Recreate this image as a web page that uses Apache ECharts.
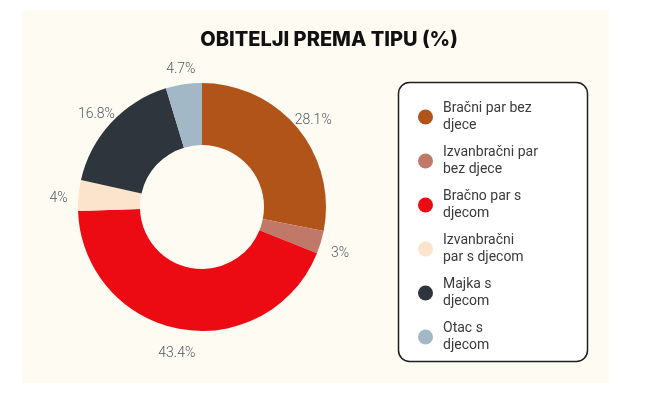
<!DOCTYPE html>
<html><head><meta charset="utf-8">
<script src="https://cdn.jsdelivr.net/npm/echarts@6/dist/echarts.min.js"></script>
<style>html,body{margin:0;padding:0;background:#fff}#c{width:653px;height:400px}</style>
</head><body><div id="c"></div>
<script>
const categories = ['Bračni par bez djece','Izvanbračni par bez djece','Bračno par s djecom','Izvanbračni par s djecom','Majka s djecom','Otac s djecom'];
const legendLabels = ['Bračni par bez\ndjece','Izvanbračni par\nbez djece','Bračno par s\ndjecom','Izvanbračni\npar s djecom','Majka s\ndjecom','Otac s\ndjecom'];
const values = [28.1, 3, 43.4, 4, 16.8, 4.7];
const colors = ['#B1541A','#C07868','#EC0A13','#FCE4CC','#2E353C','#A2B8C7'];
const titleText = 'OBITELJI PREMA TIPU (%)';

const chart = echarts.init(document.getElementById('c'), null, {renderer:'canvas'});
const mainData = categories.map((n,i)=>({name:n, value:values[i], itemStyle:{color:colors[i]}}));
const labelData = categories.map((n,i)=>({name:n, value:values[i]}));
chart.setOption({
  animation:false,
  backgroundColor:'#ffffff',
  graphic:[
    {type:'rect', z:-10, shape:{x:22,y:10,width:587,height:373}, style:{fill:'#FEFBF3'}},
    {type:'rect', z:-5, shape:{x:398.5,y:82.5,width:189,height:279,r:11}, style:{fill:'#ffffff',stroke:'#1f1f1f',lineWidth:1.5}}
  ],
  title:{text:titleText, left:324, top:25, textAlign:'center',
    textStyle:{fontFamily:'Inter', fontWeight:800, fontSize:20, color:'#111'}},
  legend:{
    orient:'vertical', left:413, top:95, itemWidth:15, itemHeight:15, itemGap:10,
    icon:'circle', selectedMode:false,
    data:categories,
    formatter:function(n){return legendLabels[categories.indexOf(n)];},
    textStyle:{fontFamily:'Roboto', fontSize:14, color:'#3a3a3a', lineHeight:17, padding:[0,0,0,5]}
  },
  series:[
    {type:'pie', name:'main', center:[202,207], radius:[62,124], startAngle:90, clockwise:true,
     label:{show:false}, labelLine:{show:false}, emphasis:{disabled:true},
     data:mainData},
    {type:'pie', name:'labels', center:[202,207], radius:[126,156], startAngle:90, clockwise:true,
     silent:true, emphasis:{disabled:true}, labelLine:{show:false},
     itemStyle:{color:'rgba(0,0,0,0)'},
     label:{show:true, position:'inside', formatter:function(p){return p.value+'%';},
       fontFamily:'Roboto', fontWeight:300, fontSize:14, color:'#505a62', offset:[0,5]},
     data:labelData}
  ]
});
</script></body></html>
